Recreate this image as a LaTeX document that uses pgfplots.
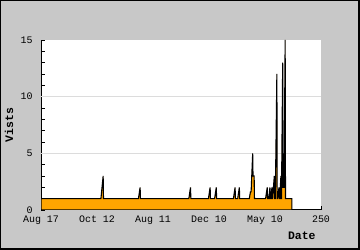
\documentclass[border=0pt]{standalone}
\usepackage{pgfplots}
\pgfplotsset{compat=1.18}
\usepackage{fontspec}
\setmainfont{Liberation Mono}
\definecolor{bggray}{HTML}{C8C8C8}
\definecolor{gridgray}{HTML}{DCDCDC}
\definecolor{fillorange}{HTML}{FFA500}
\begin{document}
\begin{tikzpicture}
\fill[black] (0,0) rectangle (360bp,250bp);
\fill[bggray] (1bp,2bp) rectangle (358bp,249bp);
\begin{axis}[
  at={(41bp,40bp)}, anchor=south west,
  scale only axis, width=280bp, height=170bp,
  xmin=0, xmax=250, ymin=0, ymax=15,
  axis x line*=bottom, axis y line*=left,
  axis line style={black, line width=1bp},
  axis background/.style={fill=white},
  xtick={0,50,100,150,200,250},
  xticklabels={Aug 17,Oct 12,Aug 11,Dec 10,May 10,250},
  ytick={0,5,10,15},
  extra y ticks={5,10}, extra y tick labels={},
  extra y tick style={grid=major, major tick length=0pt},
  grid style={gridgray, line width=0.8bp},
  minor y tick num=4,
  tick align=inside,
  major tick length=4bp, minor tick length=3.5bp,
  tick style={black, line width=0.8bp},
  /pgf/number format/assume math mode=true,
  ticklabel style={font=\fontsize{10}{12}\selectfont},
  yticklabel style={xshift=-5bp},
  xticklabel style={yshift=-2.5bp},
  xlabel={\bfseries Date},
  ylabel={\bfseries Vists},
  label style={font=\fontsize{11.5}{13}\selectfont},
  xlabel style={at={(axis description cs:0.993,-0.153)}, anchor=east},
  ylabel style={at={(axis description cs:-0.114,0.5)}, anchor=center, rotate=0},
]
\addplot[fill=fillorange, draw=black, line width=1.1bp, line join=miter] coordinates {
(0,1) (53.5,1)(55.5,3)(55.8,1) (87,1)(88.5,2)(88.8,1) (132,1)(133.5,2)(133.8,1)
(149.5,1)(151,2)(151.3,1) (155,1)(156.5,2)(156.8,1) (171.8,1)(173.3,2)(173.6,1)
(175.6,1)(177.1,2)(177.4,1) (186,1)(187,1.6)(187.6,1.6)(189,5)(189.3,3)(190.3,3)(190.6,1)
(200.5,1)(202,2)(202.3,1)(203.4,1)(204.4,2)(204.7,1)(205.2,1)(206.2,2)(206.5,1)
(206.8,1)(208.3,3)(208.6,1)(209.2,1)(210.6,12)(210.9,1)
(211.3,1)(212.5,2)(212.8,1)(213.2,1)(214.2,3)(214.5,1)(214.7,1)(215.8,13)(216.1,2)(217,2)(218,15)(218.3,1)
(224,1)(224,0)
} \closedcycle;
\end{axis}
\end{tikzpicture}
\end{document}
